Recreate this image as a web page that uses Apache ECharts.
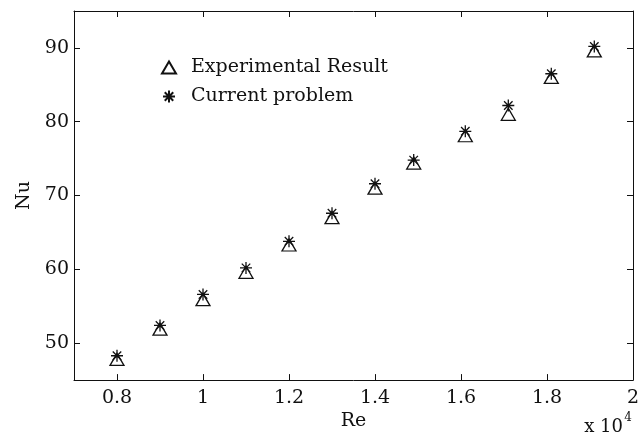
<!DOCTYPE html>
<html>
<head>
<meta charset="utf-8">
<script src="https://cdn.jsdelivr.net/npm/echarts@6/dist/echarts.min.js"></script>
<style>
html,body{margin:0;padding:0;background:#fff;}
#chart{width:644px;height:436px;}
</style>
</head>
<body>
<div id="chart"></div>
<script>
// Re values (x 10^4)
var reValues = [0.8, 0.9, 1.0, 1.1, 1.2, 1.3, 1.4, 1.49, 1.61, 1.71, 1.81, 1.91];
var nuExperimental = [47.8, 51.9, 55.9, 59.6, 63.3, 67.0, 71.0, 74.4, 78.1, 81.0, 86.0, 89.6];
var nuCurrent = [48.3, 52.4, 56.6, 60.2, 63.8, 67.6, 71.6, 74.8, 78.7, 82.2, 86.5, 90.2];
var xTicks = [0.8, 1, 1.2, 1.4, 1.6, 1.8, 2];
var yTicks = [50, 60, 70, 80, 90];
var seriesNames = ['Experimental Result', 'Current problem'];
var xUnitText = 'x 10';
var xUnitExp = '4';

var FONT = 'DejaVu Serif';
var INK = '#111';
var asterisk = 'path://M0,-10L0,10M-10,0L10,0M-7.07,-7.07L7.07,7.07M-7.07,7.07L7.07,-7.07';

function pairs(xs, ys) {
  return xs.map(function (x, i) { return [x, ys[i]]; });
}

var chart = echarts.init(document.getElementById('chart'), null, {renderer: 'canvas'});
var axisLine = {show: true, lineStyle: {color: INK, width: 1}};
var tickStyle = {show: true, inside: true, length: 6, lineStyle: {color: INK, width: 1}};

chart.setOption({
  animation: false,
  backgroundColor: '#fff',
  grid: {left: 74, right: 11, top: 11, bottom: 55, containLabel: false},
  legend: {
    orient: 'vertical',
    left: 156,
    top: 53,
    itemWidth: 14,
    itemHeight: 12,
    itemGap: 10,
    selectedMode: false,
    textStyle: {fontFamily: FONT, fontSize: 19, color: INK, lineHeight: 19, padding: [0, 0, 0, 10]},
    data: seriesNames
  },
  graphic: [{
    type: 'text', right: 21, top: 418,
    style: {text: xUnitText, font: '18px "DejaVu Serif"', fill: INK}
  }, {
    type: 'text', right: 12, top: 412,
    style: {text: xUnitExp, font: '12px "DejaVu Serif"', fill: INK}
  }],
  xAxis: [{
    type: 'value', position: 'bottom', min: 0.7, max: 2.0,
    name: 'Re', nameLocation: 'middle', nameGap: 28,
    nameTextStyle: {fontFamily: FONT, fontSize: 19, color: INK},
    axisLine: axisLine,
    axisTick: Object.assign({customValues: xTicks}, tickStyle),
    axisLabel: {customValues: xTicks, fontFamily: FONT, fontSize: 19, color: INK, margin: 8,
      formatter: function (v) { return String(v); }},
    splitLine: {show: false}
  }, {
    type: 'value', position: 'top', min: 0.7, max: 2.0,
    axisLine: axisLine,
    axisTick: Object.assign({customValues: xTicks}, tickStyle),
    axisLabel: {show: false},
    splitLine: {show: false}
  }],
  yAxis: [{
    type: 'value', position: 'left', min: 45, max: 95,
    name: 'Nu', nameLocation: 'middle', nameGap: 37, nameRotate: 90,
    nameTextStyle: {fontFamily: FONT, fontSize: 19, color: INK},
    axisLine: axisLine,
    axisTick: Object.assign({customValues: yTicks}, tickStyle),
    axisLabel: {customValues: yTicks, fontFamily: FONT, fontSize: 19, color: INK, margin: 5},
    splitLine: {show: false}
  }, {
    type: 'value', position: 'right', min: 45, max: 95,
    axisLine: axisLine,
    axisTick: Object.assign({customValues: yTicks}, tickStyle),
    axisLabel: {show: false},
    splitLine: {show: false}
  }],
  series: [{
    name: seriesNames[0],
    type: 'scatter',
    xAxisIndex: 0, yAxisIndex: 0,
    symbol: 'triangle',
    symbolSize: [14, 12],
    itemStyle: {color: '#fff', borderColor: INK, borderWidth: 1.3, opacity: 1},
    data: pairs(reValues, nuExperimental),
    z: 2
  }, {
    name: seriesNames[1],
    type: 'scatter',
    xAxisIndex: 0, yAxisIndex: 0,
    symbol: asterisk,
    symbolSize: 12,
    itemStyle: {color: INK, borderColor: INK, borderWidth: 1.3, opacity: 1},
    data: pairs(reValues, nuCurrent),
    z: 3
  }]
});
</script>
</body>
</html>
